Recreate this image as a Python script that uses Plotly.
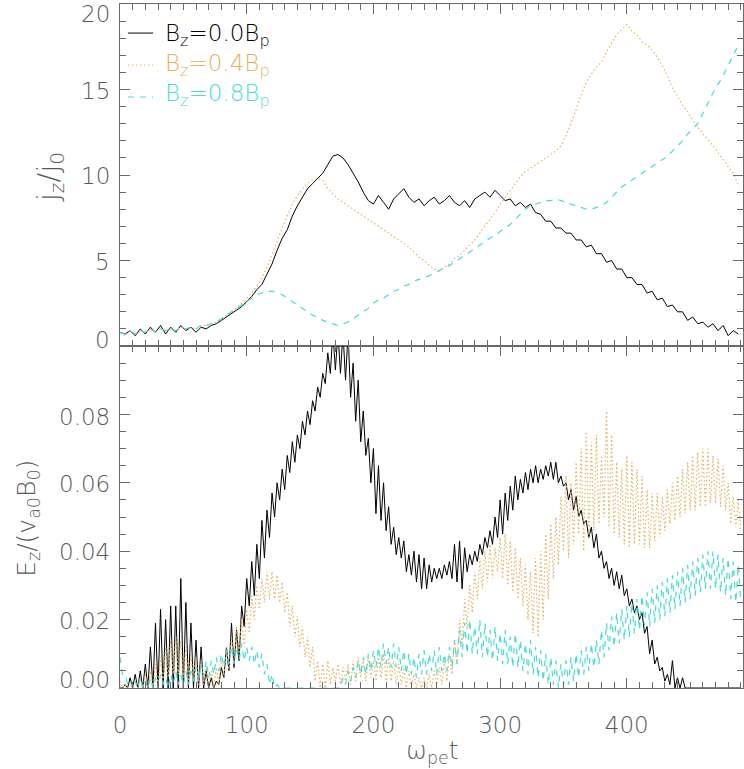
import numpy as np
import plotly.graph_objects as go
from plotly.subplots import make_subplots

# ---------------- data ----------------
# current density j_z/j_0, sampled every 4 (omega_pe t = 0, 4, ..., 488)
jz_b00 = [0.8, 0.7, 0.9, 0.6, 1.0, 0.7, 1.1, 0.8, 1.2, 0.7,
          1.1, 0.8, 1.2, 0.9, 1.1, 0.8, 1.1, 1.0, 1.2, 1.3,
          1.5, 1.7, 1.9, 2.1, 2.3, 2.6, 2.9, 3.3, 3.6, 4.2,
          4.8, 5.6, 6.3, 6.8, 7.6, 8.2, 8.7, 9.2, 9.5, 9.8,
          10.1, 10.6, 11.1, 11.2, 11.0, 10.6, 10.1, 9.6, 9.0, 8.5,
          8.3, 8.8, 8.4, 8.0, 8.6, 8.9, 9.2, 8.7, 8.4, 8.6,
          8.2, 8.5, 8.7, 8.3, 8.5, 8.8, 8.4, 8.2, 8.5, 8.1,
          8.6, 8.8, 9.0, 8.7, 9.1, 8.8, 8.5, 8.6, 8.2, 8.4,
          8.1, 8.3, 7.8, 7.7, 7.3, 7.3, 6.9, 6.9, 6.6, 6.6,
          6.2, 6.2, 5.8, 5.9, 5.4, 5.4, 4.9, 5.0, 4.5, 4.5,
          4.0, 4.0, 3.6, 3.6, 3.1, 3.2, 2.7, 2.8, 2.3, 2.4,
          2.0, 2.0, 1.5, 1.7, 1.3, 1.4, 1.1, 1.3, 0.9, 1.2,
          0.6, 0.9, 0.7]
jz_b04 = [0.8, 0.6, 0.9, 0.7, 0.9, 0.8, 1.0, 0.8, 1.0, 0.9,
          1.0, 0.9, 1.1, 1.0, 1.1, 1.0, 1.2, 1.2, 1.3, 1.4,
          1.6, 1.8, 2.0, 2.2, 2.5, 2.8, 3.1, 3.5, 4.0, 4.6,
          5.4, 6.2, 6.9, 7.6, 8.3, 8.8, 9.2, 9.5, 9.7, 9.8,
          9.7, 9.2, 8.9, 8.6, 8.4, 8.2, 8.0, 7.8, 7.6, 7.4,
          7.2, 7.0, 6.8, 6.6, 6.4, 6.2, 6.0, 5.8, 5.5, 5.2,
          5.0, 4.7, 4.5, 4.4, 4.6, 4.8, 5.1, 5.3, 5.6, 5.9,
          6.2, 6.6, 7.0, 7.4, 7.8, 8.3, 8.7, 9.1, 9.5, 9.9,
          10.2, 10.4, 10.6, 10.8, 11.0, 11.2, 11.4, 11.7, 12.3, 13.0,
          13.9, 14.7, 15.4, 15.9, 16.3, 16.6, 17.2, 17.7, 18.2, 18.5,
          18.8, 18.4, 18.2, 17.8, 17.6, 17.3, 16.9, 16.4, 15.8, 15.1,
          14.6, 14.1, 13.7, 13.2, 12.8, 12.4, 12.1, 11.7, 11.3, 10.9,
          10.5, 10.1, 9.4]
jz_b08 = [0.8, 0.7, 0.9, 0.7, 0.9, 0.8, 1.0, 0.8, 1.0, 0.9,
          1.0, 0.9, 1.0, 1.0, 1.1, 1.0, 1.2, 1.2, 1.3, 1.4,
          1.6, 1.8, 2.0, 2.2, 2.4, 2.6, 2.8, 3.0, 3.1, 3.2,
          3.2, 3.1, 3.0, 2.8, 2.6, 2.4, 2.2, 2.0, 1.8, 1.7,
          1.5, 1.4, 1.3, 1.2, 1.3, 1.4, 1.6, 1.8, 2.0, 2.2,
          2.5, 2.7, 2.8, 3.0, 3.2, 3.3, 3.5, 3.6, 3.8, 3.9,
          4.0, 4.1, 4.3, 4.4, 4.6, 4.7, 4.9, 5.1, 5.3, 5.5,
          5.7, 5.9, 6.1, 6.3, 6.5, 6.7, 6.9, 7.1, 7.4, 7.7,
          8.0, 8.2, 8.3, 8.4, 8.5, 8.5, 8.6, 8.5, 8.4, 8.3,
          8.2, 8.1, 8.0, 8.0, 8.1, 8.2, 8.4, 8.7, 9.0, 9.3,
          9.5, 9.7, 9.9, 10.1, 10.3, 10.5, 10.7, 10.9, 11.1, 11.4,
          11.7, 12.0, 12.4, 12.7, 13.0, 13.6, 14.2, 14.8, 15.3, 15.8,
          16.4, 17.0, 17.6]

# reconnection field E_z/(v_a0 B_0) in units of 1e-3:
# local maxima at omega_pe t = 0, 4, ..., 488 and minima at 2, 6, ..., 490
ez_b00_hi = [0, 1, 3, 4, 5, 7, 12, 19, 23, 20,
             24, 24, 32, 25, 19, 14, 12, 5, 3, 2,
             6, 12, 19, 17, 24, 32, 37, 42, 49, 52,
             57, 60, 64, 68, 72, 74, 78, 81, 84, 88,
             92, 98, 104, 104, 104, 104, 95, 90, 81, 73,
             70, 65, 60, 53, 47, 44, 43, 39, 40, 39,
             38, 36, 35, 35, 36, 37, 42, 43, 41, 39,
             40, 42, 44, 46, 50, 55, 57, 59, 62, 61,
             63, 64, 65, 64, 65, 66, 66, 62, 60, 58,
             56, 52, 49, 47, 45, 40, 37, 35, 34, 33,
             29, 26, 24, 22, 18, 14, 9, 6, 4, 8,
             3, 3, 0, 0, 0, 0, 0, 0, 0, 0,
             0, 0, 0]
ez_b00_lo = [0, 0, 0, 0, 0, 0, 0, 0, 0, 0,
             0, 0, 0, 0, 0, 0, 0, 0, 0, 1,
             3, 5, 6, 8, 18, 24, 27, 32, 38, 44,
             50, 55, 58, 63, 66, 70, 74, 77, 81, 85,
             89, 92, 93, 92, 90, 85, 78, 72, 68, 60,
             51, 49, 46, 42, 39, 38, 34, 33, 31, 29,
             29, 31, 32, 32, 33, 32, 31, 29, 34, 36,
             37, 39, 41, 42, 44, 45, 49, 52, 55, 57,
             58, 60, 60, 61, 62, 61, 60, 59, 55, 52,
             50, 48, 44, 41, 38, 35, 32, 30, 29, 27,
             24, 22, 20, 16, 10, 7, 5, 2, 1, 0,
             0, 0, 0, 0, 0, 0, 0, 0, 0, 0,
             0, 0, 0]
ez_b04_hi = [2, 1, 2, 2, 3, 4, 5, 7, 9, 12,
             14, 15, 14, 12, 10, 9, 8, 6, 5, 6,
             8, 12, 15, 18, 20, 23, 27, 30, 32, 34,
             34, 33, 31, 28, 24, 21, 18, 15, 12, 8,
             7, 8, 6, 7, 6, 7, 8, 9, 8, 9,
             8, 9, 10, 9, 8, 7, 6, 5, 4, 3,
             3, 4, 5, 6, 8, 10, 14, 20, 26, 30,
             34, 38, 40, 42, 41, 44, 45, 43, 41, 38,
             36, 34, 38, 40, 45, 48, 50, 56, 62, 60,
             66, 70, 75, 72, 74, 68, 81, 74, 66, 64,
             68, 66, 64, 62, 58, 57, 57, 56, 58, 60,
             62, 64, 66, 68, 69, 70, 70, 68, 67, 65,
             60, 56, 55]
ez_b04_lo = [0, 0, 0, 0, 0, 0, 0, 1, 2, 3,
             4, 4, 3, 2, 2, 1, 1, 0, 0, 1,
             3, 5, 7, 10, 12, 16, 20, 23, 25, 26,
             26, 25, 22, 18, 15, 12, 9, 6, 2, 0,
             0, 1, 2, 1, 2, 1, 2, 3, 2, 3,
             2, 3, 2, 2, 1, 1, 0, 0, 0, 0,
             0, 0, 1, 1, 2, 4, 7, 12, 17, 22,
             26, 29, 31, 32, 34, 32, 30, 28, 26, 24,
             20, 16, 15, 20, 26, 32, 36, 40, 38, 42,
             45, 40, 44, 46, 48, 50, 47, 45, 44, 42,
             41, 42, 42, 41, 41, 43, 44, 46, 48, 49,
             50, 51, 52, 52, 53, 53, 54, 54, 53, 52,
             48, 47, 46]
ez_b08_hi = [9, 4, 2, 2, 3, 2, 3, 3, 4, 3,
             4, 5, 4, 5, 5, 6, 7, 8, 8, 9,
             10, 11, 12, 12, 13, 12, 12, 11, 10, 7,
             4, 1, 0, 0, 0, 0, 0, 0, 0, 0,
             0, 0, 0, 0, 3, 5, 6, 8, 9, 10,
             11, 12, 13, 12, 13, 12, 11, 10, 9, 10,
             11, 10, 11, 12, 10, 12, 14, 17, 19, 20,
             18, 20, 19, 17, 18, 16, 17, 15, 16, 14,
             13, 14, 12, 11, 10, 9, 8, 7, 8, 9,
             10, 11, 12, 13, 14, 17, 19, 21, 22, 23,
             24, 25, 26, 27, 28, 29, 30, 31, 32, 33,
             34, 35, 36, 37, 38, 39, 40, 40, 39, 38,
             38, 37, 36]
ez_b08_lo = [4, 1, 0, 0, 0, 0, 0, 0, 1, 0,
             1, 1, 1, 1, 2, 2, 3, 3, 4, 5,
             6, 7, 7, 8, 8, 8, 7, 6, 4, 1,
             0, 0, 0, 0, 0, 0, 0, 0, 0, 0,
             0, 0, 0, 0, 1, 2, 3, 4, 4, 5,
             6, 6, 7, 6, 6, 5, 4, 4, 3, 4,
             4, 5, 4, 5, 5, 6, 7, 9, 10, 10,
             10, 9, 9, 8, 8, 7, 7, 6, 6, 5,
             4, 4, 3, 2, 1, 1, 0, 1, 1, 2,
             3, 4, 5, 6, 7, 9, 11, 12, 13, 14,
             15, 16, 17, 18, 18, 19, 20, 21, 22, 23,
             24, 25, 26, 27, 28, 29, 29, 29, 28, 27,
             26, 25, 25]

series_names = ["B<sub>z</sub>=0.0B<sub>p</sub>",
                "B<sub>z</sub>=0.4B<sub>p</sub>",
                "B<sub>z</sub>=0.8B<sub>p</sub>"]

# ---------------- helpers ----------------
def jz_series(vals):
    t = 4.0 * np.arange(len(vals))
    return t, np.array(vals, dtype=float)


def ez_series(hi, lo):
    t = np.concatenate([4.0 * np.arange(len(hi)), 2.0 + 4.0 * np.arange(len(lo))])
    v = np.concatenate([np.array(hi, float), np.array(lo, float)]) * 1e-3
    order = np.argsort(t, kind="stable")
    return t[order], v[order]


BLACK = "#000000"
ORANGE = "#E9B062"
CYAN = "#46DCD3"
AXC = "#6a6a6a"
TXT = "#5a5a5a"
FONT = "DejaVu Sans"

styles = [dict(color=BLACK, width=1.0, dash="solid"),
          dict(color=ORANGE, width=1.2, dash="1.5px,2.5px"),
          dict(color=CYAN, width=1.2, dash="6px,6px")]

fig = make_subplots(rows=2, cols=1, shared_xaxes=True, vertical_spacing=0)

for vals, st, nm in zip([jz_b00, jz_b04, jz_b08], styles, series_names):
    t, v = jz_series(vals)
    fig.add_trace(go.Scatter(x=t, y=v, mode="lines", line=st, name=nm,
                             showlegend=False, hoverinfo="skip"), row=1, col=1)

for (hi, lo), st, nm in zip([(ez_b00_hi, ez_b00_lo), (ez_b04_hi, ez_b04_lo),
                             (ez_b08_hi, ez_b08_lo)], styles, series_names):
    t, v = ez_series(hi, lo)
    fig.add_trace(go.Scatter(x=t, y=v, mode="lines", line=st, name=nm,
                             showlegend=False, hoverinfo="skip"), row=2, col=1)

axis_common = dict(showline=True, linecolor=AXC, linewidth=1, mirror="allticks",
                   ticks="inside", ticklen=10, tickwidth=1, tickcolor=AXC,
                   showgrid=False, zeroline=False)

fig.update_xaxes(range=[0, 491.7], dtick=100, tick0=0,
                 minor=dict(ticks="inside", ticklen=6, tickcolor=AXC, dtick=10,
                            showgrid=False),
                 **axis_common)
fig.update_xaxes(showticklabels=False, row=1, col=1)
fig.update_xaxes(showticklabels=True, row=2, col=1,
                 tickfont=dict(family=FONT, size=23, color=TXT, weight=200),
                 ticklabelstandoff=16)

fig.update_yaxes(range=[0, 20], dtick=5, tick0=0, showticklabels=False,
                 minor=dict(ticks="inside", ticklen=6, tickcolor=AXC, dtick=1,
                            showgrid=False),
                 row=1, col=1, **axis_common)
fig.update_yaxes(range=[0, 0.1], dtick=0.02, tick0=0, showticklabels=False,
                 minor=dict(ticks="inside", ticklen=6, tickcolor=AXC, dtick=0.005,
                            showgrid=False),
                 row=2, col=1, **axis_common)

lab_font = dict(family=FONT, size=23, color=TXT, weight=200)
annotations = []

# y tick labels (edge labels kept inside the frame)
top_ticks = [(0, "0", 6), (5, "5", -1), (10, "10", -1), (15, "15", -1), (20, "20", -10)]
for val, txt, dy in top_ticks:
    annotations.append(dict(x=0, xref="paper", xanchor="right", xshift=-8,
                            y=val, yref="y", yanchor="middle", yshift=dy,
                            text=txt, showarrow=False, font=lab_font))
bot_ticks = [(0.0, "0.00", 8), (0.02, "0.02", -1), (0.04, "0.04", -1),
             (0.06, "0.06", -1), (0.08, "0.08", -3)]
for val, txt, dy in bot_ticks:
    annotations.append(dict(x=0, xref="paper", xanchor="right", xshift=-8,
                            y=val, yref="y2", yanchor="middle", yshift=dy,
                            text=txt, showarrow=False, font=lab_font))

title_font = dict(family=FONT, size=25, color=TXT, weight=200)
annotations += [
    dict(x=-0.112, xref="paper", y=0.747, yref="paper", text="j<sub>z</sub>/j<sub>0</sub>",
         textangle=-90, showarrow=False, font=dict(title_font, size=29),
         xanchor="center", yanchor="middle"),
    dict(x=-0.148, xref="paper", y=0.2485, yref="paper",
         text="E<sub>z</sub>/(v<sub>a0</sub>B<sub>0</sub>)",
         textangle=-90, showarrow=False, font=title_font, xanchor="center", yanchor="middle"),
    dict(x=0.502, xref="paper", y=-0.0936, yref="paper", text="ω<sub>pe</sub>t",
         showarrow=False, font=title_font, xanchor="center", yanchor="middle"),
]

# legend inside the upper panel
leg_y = [0.909, 0.8216, 0.7339]
line_y = [0.915, 0.8216, 0.728]
shapes = []
for nm, st, ty, ly in zip(series_names, styles, leg_y, line_y):
    annotations.append(dict(x=0.069, xref="x domain", y=ty, yref="y domain",
                            xanchor="left", yanchor="middle", text=nm, showarrow=False,
                            font=dict(family=FONT, size=23, color=st["color"], weight=200)))
    shapes.append(dict(type="line", xref="x domain", yref="y domain",
                       x0=0.0128, x1=0.053, y0=ly, y1=ly,
                       line=dict(color=st["color"], width=st["width"], dash=st["dash"])))

fig.update_layout(width=744, height=769, autosize=False,
                  margin=dict(l=120, r=1, t=4, b=81),
                  paper_bgcolor="white", plot_bgcolor="white",
                  showlegend=False, annotations=annotations, shapes=shapes)

fig.write_html("out.html")
